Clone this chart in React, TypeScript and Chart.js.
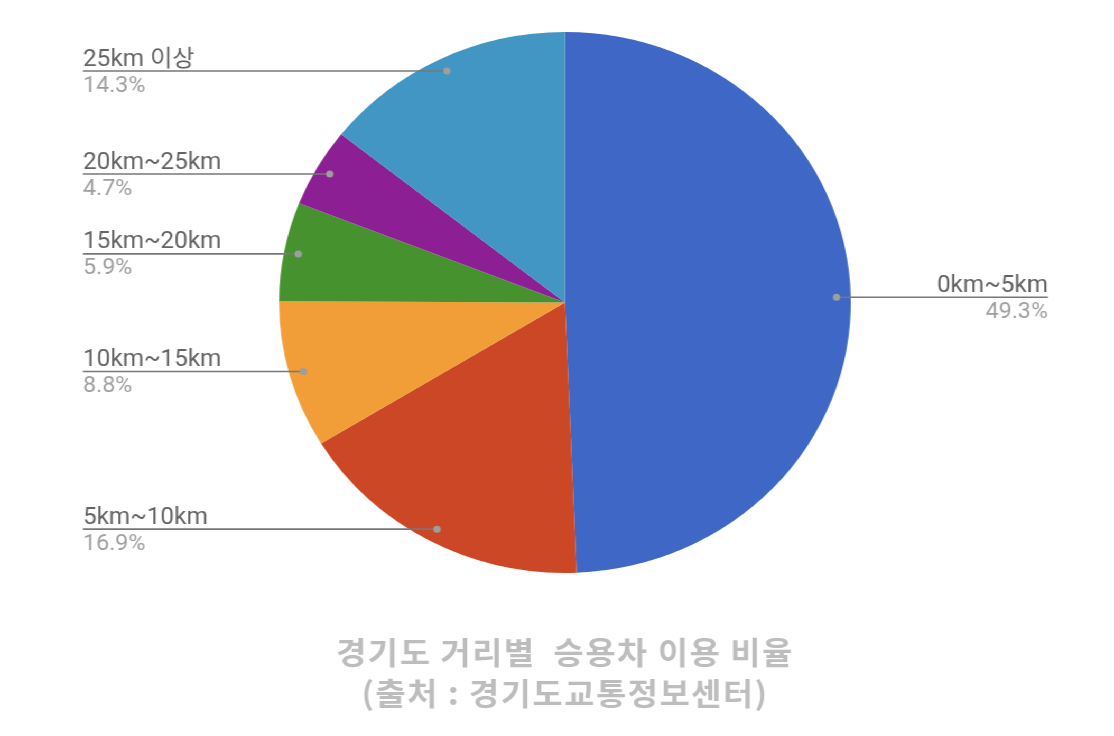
import React, { useRef, useEffect } from 'react';
import { Chart, registerables } from 'chart.js';

Chart.register(...registerables);

// ============================================
// DATOS
// ============================================

const distanceLabels = ['0km~5km', '5km~10km', '10km~15km', '15km~20km', '20km~25km', '25km 이상'];
const shareValues = [49.3, 16.9, 8.8, 5.9, 4.7, 14.3];
const sliceColors = ['#3F67C6', '#CC4726', '#F19D38', '#46922F', '#8D1F95', '#4196C3'];
const titleLines = ['경기도 거리별  승용차 이용 비율', '(출처 : 경기도교통정보센터)'];

// la imagen original está estirada en horizontal
const STRETCH = 1114 / 1054;
const CANVAS_W = 1054;
const CANVAS_H = 736;

const App: React.FC = () => {
  const chartRef = useRef<HTMLCanvasElement>(null);
  const chartInstanceRef = useRef<Chart | null>(null);

  useEffect(() => {
    if (!chartRef.current) return;
    const ctx = chartRef.current.getContext('2d');
    if (!ctx) return;

    if (chartInstanceRef.current) {
      chartInstanceRef.current.destroy();
    }

    const leftX = 83 / STRETCH;
    const rightX = 1048 / STRETCH;
    const centerX = 565 / STRETCH;

    chartInstanceRef.current = new Chart(ctx, {
      type: 'pie',
      data: {
        labels: distanceLabels,
        datasets: [{
          data: shareValues,
          backgroundColor: sliceColors,
          borderWidth: 0,
        }]
      },
      options: {
        responsive: true,
        maintainAspectRatio: false,
        animation: false,
        layout: {
          padding: { top: 32, bottom: 163, left: centerX - 290, right: CANVAS_W - centerX - 290 }
        },
        plugins: {
          legend: { display: false },
          tooltip: { enabled: false },
          title: { display: false }
        }
      },
      plugins: [{
        id: 'leaderLabels',
        afterDatasetsDraw: (chart: any) => {
          const c = chart.ctx;
          const meta = chart.getDatasetMeta(0);
          c.save();
          meta.data.forEach((arc: any, i: number) => {
            const { x, y, startAngle, endAngle, outerRadius } =
              arc.getProps(['x', 'y', 'startAngle', 'endAngle', 'outerRadius'], true);
            const mid = (startAngle + endAngle) / 2;
            const px = x + Math.cos(mid) * outerRadius * 0.95;
            const py = y + Math.sin(mid) * outerRadius * 0.95;
            const isLeft = Math.cos(mid) < 0;
            const edge = isLeft ? leftX : rightX;

            // línea guía
            c.strokeStyle = '#777777';
            c.lineWidth = 1.6;
            c.beginPath();
            c.moveTo(edge, py);
            c.lineTo(px, py);
            c.stroke();

            // punto
            c.fillStyle = '#9E9E9E';
            c.beginPath();
            c.arc(px, py, 3.5, 0, Math.PI * 2);
            c.fill();

            // textos
            c.textAlign = isLeft ? 'left' : 'right';
            c.textBaseline = 'alphabetic';
            c.font = '23px Roboto, "Noto Sans CJK KR", sans-serif';
            c.fillStyle = '#636363';
            c.fillText(distanceLabels[i], edge, py - 5.5);
            c.font = '22px Roboto, sans-serif';
            c.fillStyle = '#9E9E9E';
            c.fillText(`${shareValues[i].toFixed(1)}%`, edge, py + 20.5);
          });

          // título
          c.textAlign = 'center';
          c.textBaseline = 'middle';
          c.fillStyle = '#BDBDBD';
          c.font = 'bold 31px "Noto Sans CJK KR", sans-serif';
          (c as any).letterSpacing = '1.5px';
          c.fillText(titleLines[0], centerX, 652);
          c.fillText(titleLines[1], centerX, 693);
          c.restore();
        }
      }]
    });

    return () => {
      if (chartInstanceRef.current) {
        chartInstanceRef.current.destroy();
        chartInstanceRef.current = null;
      }
    };
  }, []);

  return (
    <div style={{
      position: 'fixed',
      left: 0,
      top: 0,
      width: CANVAS_W,
      height: CANVAS_H,
      background: '#ffffff',
      transform: `scaleX(${STRETCH})`,
      transformOrigin: '0 0'
    }}>
      <canvas ref={chartRef} />
    </div>
  );
};

export default App;
